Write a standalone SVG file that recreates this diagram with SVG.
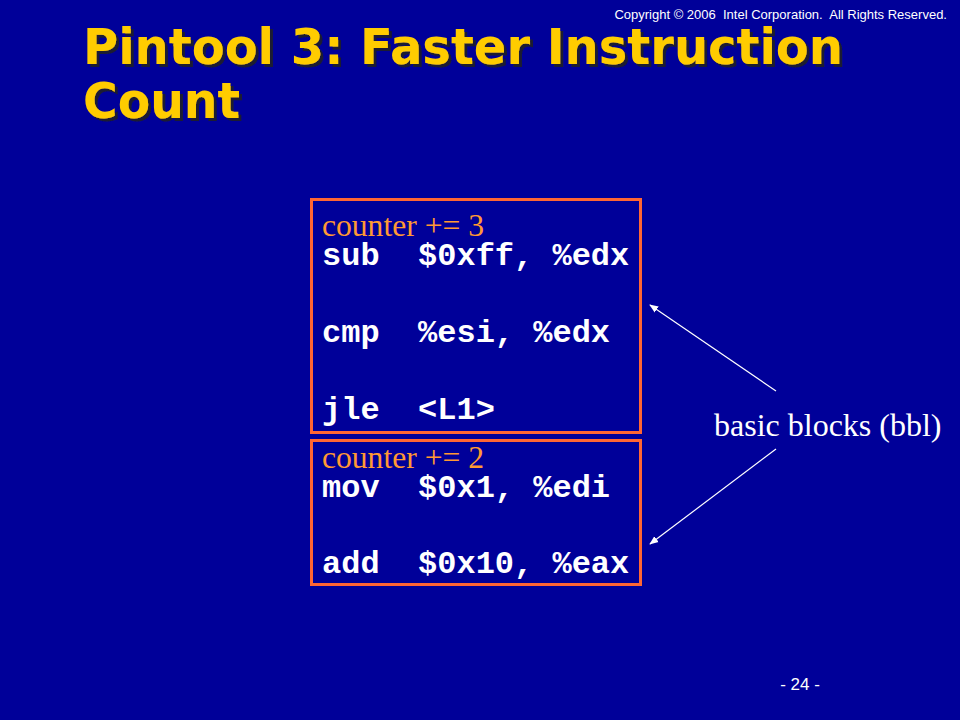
<svg xmlns="http://www.w3.org/2000/svg" width="960" height="720" viewBox="0 0 960 720">
<defs>
<style>
.title{font-family:"DejaVu Sans","Liberation Sans",sans-serif;font-weight:bold;font-size:50px;fill:#ffcc00;filter:url(#sh)}
.box{fill:none;stroke:#ff6633;stroke-width:3}
.cnt{font-family:"Liberation Serif",serif;font-size:31.6px;fill:#ff9933}
.code{font-family:"Liberation Mono",monospace;font-weight:bold;font-size:32px;fill:#ffffff;white-space:pre}
.lbl{font-family:"Liberation Serif",serif;font-size:32px;fill:#ffffff}
.arrow{stroke:#ffffff;stroke-width:1.2;fill:none;marker-end:url(#ah)}
</style>
<filter id="sh" x="-5%" y="-20%" width="110%" height="140%">
<feDropShadow dx="3" dy="3" stdDeviation="0.6" flood-color="#1a1a33" flood-opacity="1"/>
</filter>
<marker id="ah" viewBox="0 0 10 10" refX="9" refY="5" markerWidth="9" markerHeight="9" markerUnits="userSpaceOnUse" orient="auto">
<path d="M0,1 L10,5 L0,9 z" fill="#ffffff"/>
</marker>
</defs>
<rect x="0" y="0" width="960" height="720" fill="#000099"/>
<g id="copyright"><text x="947" y="19" text-anchor="end" font-family="Liberation Sans, Arial, sans-serif" font-size="13" fill="#ffffff" xml:space="preserve">Copyright © 2006  Intel Corporation.  All Rights Reserved.</text></g>
<g id="title">
<text class="title" x="83" y="64" textLength="760" lengthAdjust="spacingAndGlyphs">Pintool 3: Faster Instruction</text>
<text class="title" x="83" y="118" textLength="157" lengthAdjust="spacingAndGlyphs">Count</text>
</g>
<g id="bbl1">
<rect class="box" x="311.5" y="199.5" width="329" height="233"/>
<text class="cnt" x="322" y="236">counter += 3</text>
<text class="code" x="322" y="265" xml:space="preserve">sub  $0xff, %edx</text>
<text class="code" x="322" y="342" xml:space="preserve">cmp  %esi, %edx</text>
<text class="code" x="322" y="419" xml:space="preserve">jle  &lt;L1&gt;</text>
</g>
<g id="bbl2">
<rect class="box" x="311.5" y="440.5" width="329" height="144"/>
<text class="cnt" x="322" y="468">counter += 2</text>
<text class="code" x="322" y="497" xml:space="preserve">mov  $0x1, %edi</text>
<text class="code" x="322" y="573" xml:space="preserve">add  $0x10, %eax</text>
</g>
<g id="label"><text class="lbl" x="714" y="436">basic blocks (bbl)</text></g>
<g id="connectors">
<line class="arrow" x1="776" y1="391" x2="650" y2="305"/>
<line class="arrow" x1="776" y1="449" x2="650" y2="544"/>
</g>
<g id="page"><text x="800" y="690" text-anchor="middle" font-family="Liberation Sans, Arial, sans-serif" font-size="17" fill="#ffffff" xml:space="preserve">- 24 -</text></g>
</svg>
